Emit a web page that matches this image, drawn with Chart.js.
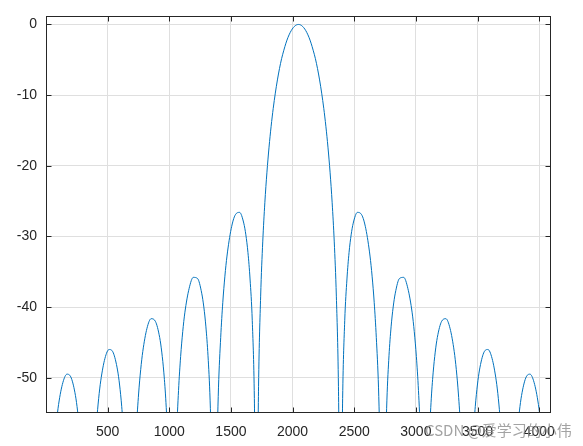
<!DOCTYPE html>
<html>
<head>
<meta charset="utf-8">
<script src="https://cdn.jsdelivr.net/npm/chart.js@4/dist/chart.umd.min.js"></script>
<style>
    body { margin: 0; background: #fff; }
    #wrap { width: 583px; height: 446px; position: relative; }
</style>
</head>
<body>
<div id="wrap"><canvas id="specChart"></canvas></div>
<script>
// ===== DATA =====
// frequency bin positions, left to right, one row per lobe
const freqBins = [
    0, 34, 68, 85, 102, 137, 171, 205, 239, 256, 273, 307, 341,
    375, 393, 410, 427, 444, 478, 512, 546, 580, 597, 614, 631, 649, 683,
    717, 734, 751, 768, 785, 819, 853, 887, 922, 939, 956, 973, 990, 1007, 1024,
    1041, 1058, 1075, 1092, 1109, 1126, 1161, 1195, 1229, 1263, 1280, 1297, 1314, 1331, 1348, 1365,
    1382, 1399, 1417, 1434, 1451, 1468, 1502, 1536, 1570, 1604, 1621, 1638, 1655, 1673, 1690, 1707,
    1724, 1741, 1758, 1775, 1792, 1809, 1826, 1843, 1860, 1877, 1894, 1911, 1929, 1946, 1963, 1980, 1997, 2014, 2031, 2048,
    2065, 2082, 2099, 2116, 2133, 2150, 2167, 2185, 2202, 2219, 2236, 2253, 2270, 2287, 2304, 2321, 2338, 2355, 2372, 2389,
    2406, 2423, 2441, 2458, 2475, 2492, 2526, 2560, 2594, 2628, 2645, 2662, 2679, 2697, 2714, 2731,
    2748, 2765, 2782, 2799, 2816, 2833, 2867, 2901, 2935, 2970, 2987, 3004, 3021, 3038, 3055, 3072,
    3089, 3106, 3123, 3140, 3157, 3174, 3209, 3243, 3277, 3311, 3328, 3345, 3362, 3379, 3413,
    3447, 3465, 3482, 3499, 3516, 3550, 3584, 3618, 3652, 3669, 3686, 3703, 3721, 3755,
    3789, 3823, 3840, 3857, 3891, 3925, 3959, 3994, 4011, 4028, 4062, 4096
];

// magnitude in dB (nulls drop far below the visible -55 floor)
const levelDb = [
    -80, -71.12, -59.65, -56.29, -53.80, -50.68, -49.50, -50.05, -52.54, -54.71, -57.76, -68.59, -80,
    -67.89, -61.04, -56.37, -52.97, -50.45, -47.27, -46.01, -46.49, -48.91, -51.04, -54.05, -58.33, -64.80, -80,
    -63.93, -57.02, -52.31, -48.87, -46.29, -43.01, -41.65, -42.02, -44.31, -46.38, -49.32, -53.54, -59.94, -71.49, -80,
    -70.91, -58.78, -51.80, -47.00, -43.48, -40.82, -37.36, -35.80, -35.96, -38.04, -39.99, -42.81, -46.90, -53.18, -64.59, -80,
    -63.72, -51.44, -44.29, -39.33, -35.63, -32.78, -28.92, -26.93, -26.60, -28.12, -29.78, -32.28, -36.03, -41.94, -52.96, -80,
    -51.22, -38.46, -30.78, -25.24, -20.91, -17.37, -14.41, -11.88, -9.72, -7.85, -6.23, -4.84, -3.65, -2.65, -1.82, -1.16, -0.65, -0.29, -0.07, 0,
    -0.07, -0.29, -0.65, -1.16, -1.82, -2.65, -3.65, -4.84, -6.23, -7.85, -9.72, -11.88, -14.41, -17.37, -20.91, -25.24, -30.78, -38.46, -51.22, -80,
    -52.96, -41.94, -36.03, -32.28, -29.78, -28.12, -26.60, -26.93, -28.92, -32.78, -35.63, -39.33, -44.29, -51.44, -63.72, -80,
    -64.59, -53.18, -46.90, -42.81, -39.99, -38.04, -35.96, -35.80, -37.36, -40.82, -43.48, -47.00, -51.80, -58.78, -70.91, -80,
    -71.49, -59.94, -53.54, -49.32, -46.38, -44.31, -42.02, -41.65, -43.01, -46.29, -48.87, -52.31, -57.02, -63.93, -80,
    -64.80, -58.33, -54.05, -51.04, -48.91, -46.49, -46.01, -47.27, -50.45, -52.97, -56.37, -61.04, -67.89, -80,
    -68.59, -57.76, -54.71, -52.54, -50.05, -49.50, -50.68, -53.80, -56.29, -59.65, -71.12, -80
];

const xTicks = [500, 1000, 1500, 2000, 2500, 3000, 3500, 4000];
const yTicks = [0, -10, -20, -30, -40, -50];
const xRange = [0, 4096];
const yRange = [-55, 1];

const axisColor = '#262626';
const gridColor = '#dfdfdf';
const tickFont = { family: '"Liberation Sans", Arial, Helvetica, sans-serif', size: 14 };

// ===== PLUGINS =====
// MATLAB-style box with inward tick marks on all four sides
const boxFrame = {
    id: 'boxFrame',
    afterDraw(chart) {
        const { ctx, chartArea: a, scales } = chart;
        const L = Math.round(a.left) + 0.5, R = Math.round(a.right) - 0.5;
        const T = Math.round(a.top) - 0.5, B = Math.round(a.bottom) - 0.5;
        const len = 5;
        ctx.save();
        ctx.strokeStyle = axisColor;
        ctx.lineWidth = 1;
        ctx.strokeRect(L, T, R - L, B - T);
        ctx.beginPath();
        xTicks.forEach(v => {
            const px = Math.round(scales.x.getPixelForValue(v)) + 0.5;
            ctx.moveTo(px, B); ctx.lineTo(px, B - len);
            ctx.moveTo(px, T); ctx.lineTo(px, T + len);
        });
        yTicks.forEach(v => {
            const py = Math.round(scales.y.getPixelForValue(v)) + 0.5;
            ctx.moveTo(L, py); ctx.lineTo(L + len, py);
            ctx.moveTo(R, py); ctx.lineTo(R - len, py);
        });
        ctx.stroke();
        ctx.restore();
    }
};

// watermark in the bottom right corner
const watermark = {
    id: 'watermark',
    afterDraw(chart) {
        const ctx = chart.ctx;
        ctx.save();
        ctx.font = '15px "Noto Sans CJK SC", "Liberation Sans", sans-serif';
        ctx.fillStyle = 'rgba(140, 140, 140, 0.8)';
        ctx.textBaseline = 'middle';
        ctx.fillText('CSDN @爱学习的小伟', 425, 430);
        ctx.restore();
    }
};

// ===== CHART =====
new Chart(document.getElementById('specChart'), {
    type: 'line',
    data: {
        datasets: [{
            data: freqBins.map((f, i) => ({ x: f, y: levelDb[i] })),
            borderColor: '#0072BD',
            borderWidth: 1,
            pointRadius: 0,
            fill: false,
            cubicInterpolationMode: 'monotone'
        }]
    },
    options: {
        responsive: true,
        maintainAspectRatio: false,
        animation: false,
        layout: { padding: { top: 16, right: 32, left: 0, bottom: 0 } },
        plugins: {
            legend: { display: false },
            tooltip: { enabled: false }
        },
        scales: {
            x: {
                type: 'linear',
                min: xRange[0], max: xRange[1],
                afterBuildTicks: s => { s.ticks = xTicks.map(v => ({ value: v })); },
                afterFit: s => { s.height = 33; },
                ticks: {
                    color: axisColor, font: tickFont, padding: 11,
                    autoSkip: false, maxRotation: 0,
                    callback: v => String(v)
                },
                grid: { color: gridColor, drawTicks: false },
                border: { display: false }
            },
            y: {
                type: 'linear',
                min: yRange[0], max: yRange[1],
                afterBuildTicks: s => { s.ticks = yTicks.map(v => ({ value: v })); },
                afterFit: s => { s.width = 46; },
                ticks: {
                    color: axisColor, font: tickFont, padding: 9,
                    autoSkip: false,
                    callback: v => String(v)
                },
                grid: { color: gridColor, drawTicks: false },
                border: { display: false }
            }
        }
    },
    plugins: [boxFrame, watermark]
});
</script>
</body>
</html>
